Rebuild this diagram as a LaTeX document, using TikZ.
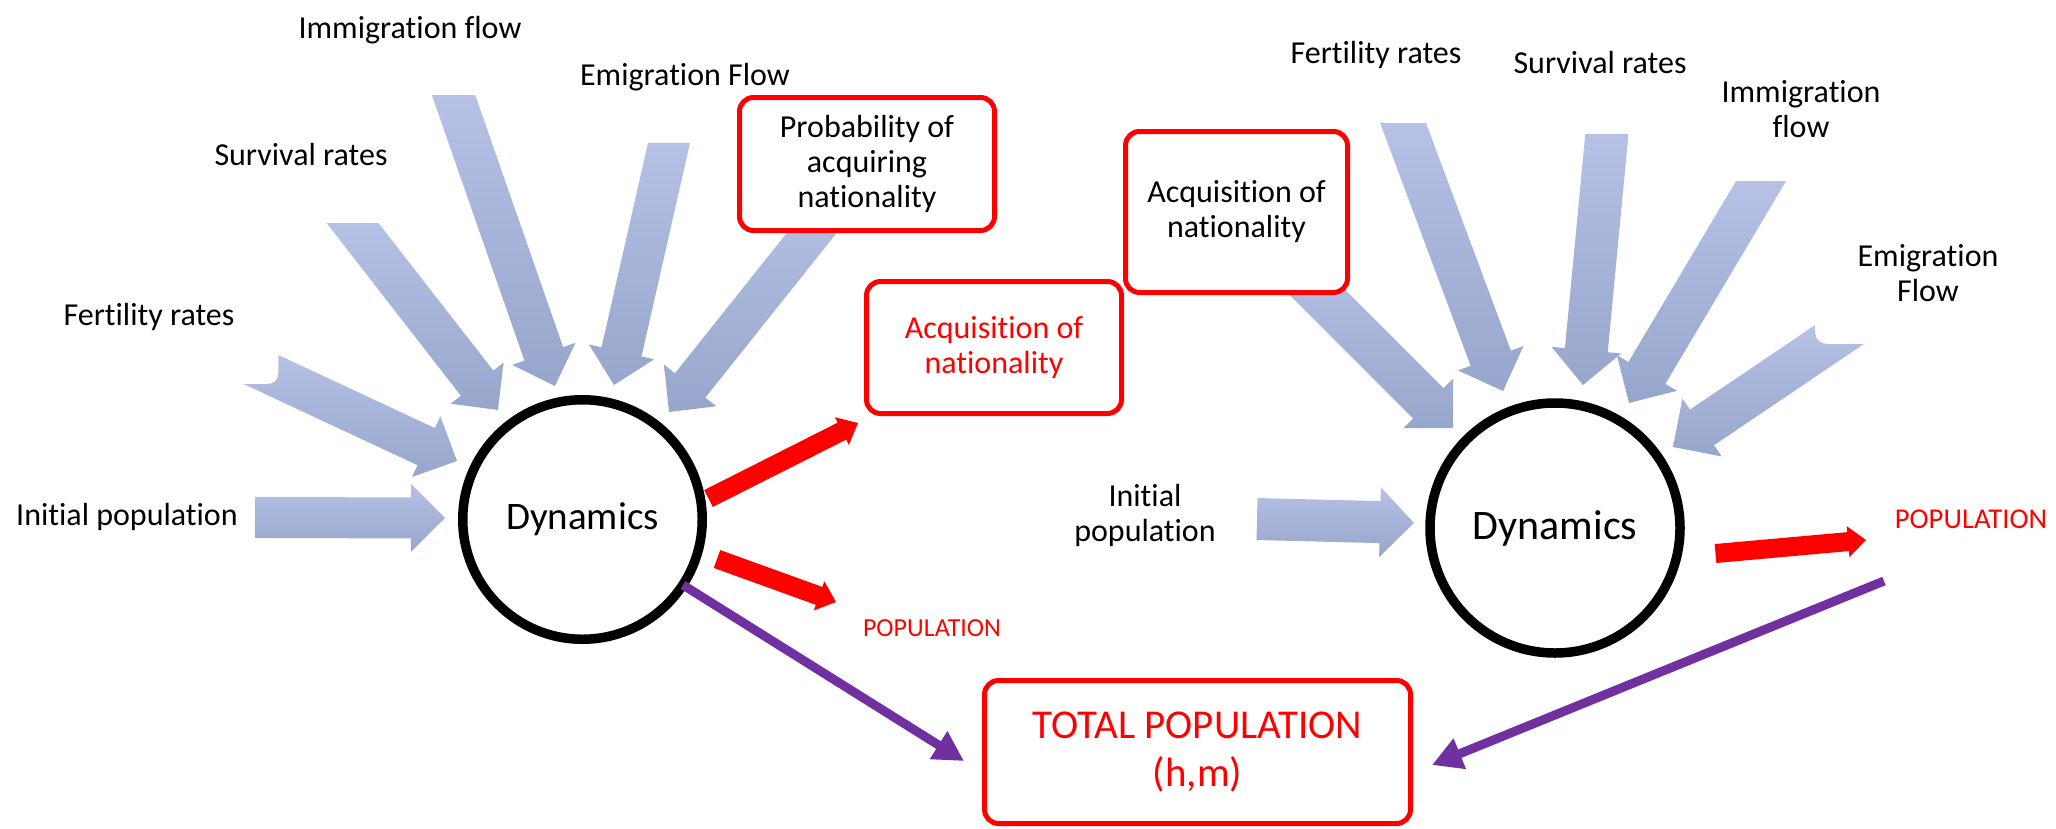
\documentclass[tikz,border=0pt]{standalone}
\usepackage{fontspec}
\setmainfont{Carlito}[Ligatures=NoCommon]
\usetikzlibrary{calc,arrows.meta}
\definecolor{bluetop}{HTML}{B5C1E5}
\definecolor{bluebot}{HTML}{97A6CC}
\definecolor{myred}{HTML}{FF0000}
\definecolor{mypurple}{HTML}{7030A0}
% geometry of a fat arrow: #1 tail (axis), #2 tip, #3 half shaft, #4 half head, #5 head length
\newcommand{\arrowgeom}[5]{%
  \coordinate (hb) at ($(#2)!#5!(#1)$);
  \coordinate (e1) at ($(hb)!#3!90:(#2)$);
  \coordinate (e2) at ($(hb)!#3!-90:(#2)$);
  \coordinate (b1) at ($(hb)!#4!90:(#2)$);
  \coordinate (b2) at ($(hb)!#4!-90:(#2)$);
  \coordinate (s1) at ($(#1)!#3!90:(#2)$);
  \coordinate (s2) at ($(#1)!#3!-90:(#2)$);
}
% fat arrow with a horizontal tail cut
\newcommand{\arrowH}[6]{%
  \arrowgeom{#1}{#2}{#3}{#4}{#5}
  \coordinate (aux) at ($(#1)+(10,0)$);
  \path[#6] (intersection of s1--e1 and #1--aux) -- (e1) -- (b1) -- (#2) -- (b2) -- (e2)
    -- (intersection of s2--e2 and #1--aux) -- cycle;
}
% fat arrow with a square tail
\newcommand{\arrowP}[6]{%
  \arrowgeom{#1}{#2}{#3}{#4}{#5}
  \path[#6] (s1) -- (e1) -- (b1) -- (#2) -- (b2) -- (e2) -- (s2) -- cycle;
}
\begin{document}
\begin{tikzpicture}[x=1pt,y=-1pt,
  bluefill/.style={top color=bluetop, bottom color=bluebot, draw=none},
  redfill/.style={fill=myred, draw=none},
  lbl/.style={font=\fontsize{32}{35}\selectfont, text=black, inner sep=0pt, align=center},
  box/.style={draw=myred, line width=5pt, rounded corners=14pt, fill=white, inner sep=0pt,
    align=center, font=\fontsize{32}{35}\selectfont},
  dyn/.style={circle, draw=black, line width=9.5pt, fill=white, inner sep=0pt},
  purplearrow/.style={draw=mypurple, line width=9pt, -{Triangle[length=30pt,width=31pt]}},
]
\useasboundingbox (0,0) rectangle (2056,828);

% ---------- coordinates of the fat arrows ----------
\coordinate (tFL) at (261,369.5);  \coordinate (hFL) at (457,461);
\coordinate (tSL) at (352.5,223);  \coordinate (hSL) at (498,410);
\coordinate (tIL) at (453.5,95);   \coordinate (hIL) at (555,386);
\coordinate (tEL) at (669,143);    \coordinate (hEL) at (614,385);
\coordinate (tPL) at (834,205);    \coordinate (hPL) at (669,412);
\coordinate (tNL) at (255,517.5);  \coordinate (hNL) at (445,518);
\coordinate (tAR) at (1295,270);   \coordinate (hAR) at (1453,428);
\coordinate (tFR) at (1403,123);   \coordinate (hFR) at (1503,391);
\coordinate (tSR) at (1607,134);   \coordinate (hSR) at (1583,385);
\coordinate (tIR) at (1761,181);   \coordinate (hIR) at (1629,403);
\coordinate (tER) at (1839.5,334.5); \coordinate (hER) at (1673,447);
\coordinate (tNR) at (1257,519);   \coordinate (hNR) at (1414,523);

% ---------- blue arrows, left ----------
\arrowgeom{tFL}{hFL}{20.5pt}{33.5pt}{34pt}
\coordinate (yP1) at (0,355); \coordinate (yP2) at (10,355);
\coordinate (yQ1) at (0,384); \coordinate (yQ2) at (10,384);
\coordinate (nP) at (intersection of s1--e1 and yP1--yP2);
\coordinate (nQ) at (intersection of s2--e2 and yQ1--yQ2);
\path[bluefill] (nP) -- (e1) -- (b1) -- (hFL) -- (b2) -- (e2) -- (nQ) -- ($(nP)+(-12,29)$)
  .. controls ($(nP)+(-5,29)$) and ($(nP)+(0,26)$) .. ($(nP)+(0,17)$) -- cycle;
\arrowH{tSL}{hSL}{20.5pt}{33.5pt}{34pt}{bluefill}
\arrowH{tIL}{hIL}{20.5pt}{33.5pt}{34pt}{bluefill}
\arrowH{tEL}{hEL}{20.5pt}{33.5pt}{34pt}{bluefill}
\arrowP{tPL}{hPL}{19.5pt}{33.5pt}{34pt}{bluefill}
\arrowP{tNL}{hNL}{20.5pt}{34pt}{34pt}{bluefill}

% ---------- blue arrows, right ----------
\arrowP{tAR}{hAR}{21.5pt}{35pt}{35pt}{bluefill}
\arrowH{tFR}{hFR}{21.5pt}{35pt}{35pt}{bluefill}
\arrowH{tSR}{hSR}{21.5pt}{35pt}{35pt}{bluefill}
\arrowH{tIR}{hIR}{21.5pt}{35pt}{35pt}{bluefill}
\arrowgeom{tER}{hER}{21.5pt}{35pt}{35pt}
\coordinate (zP1) at (0,325); \coordinate (zP2) at (10,325);
\coordinate (zQ1) at (0,344); \coordinate (zQ2) at (10,344);
\coordinate (mP) at (intersection of s2--e2 and zP1--zP2);
\coordinate (mQ) at (intersection of s1--e1 and zQ1--zQ2);
\path[bluefill] (mP) -- (e2) -- (b2) -- (hER) -- (b1) -- (e1) -- (mQ) -- ($(mP)+(13,19)$)
  .. controls ($(mP)+(6,19)$) and ($(mP)+(0,15)$) .. ($(mP)+(0,8)$) -- cycle;
\arrowP{tNR}{hNR}{21pt}{35pt}{34pt}{bluefill}

% ---------- boxes ----------
\node[box, minimum width=255pt, minimum height=133pt] (prob) at (867,164)
  {Probability of\\acquiring\\nationality};
\node[box, minimum width=255pt, minimum height=132pt, text=myred] (acq1) at (994,347.5)
  {Acquisition of\\nationality};
\node[box, minimum width=222pt, minimum height=161pt] (acq2) at (1236.5,212)
  {Acquisition of\\nationality};
\node[box, minimum width=426pt, minimum height=143pt, text=myred,
  font=\fontsize{41}{48}\selectfont] (tot) at (1197.5,752) {TOTAL POPULATION\\(h,m)};

% ---------- circles ----------
\node[dyn, minimum size=239.5pt, font=\fontsize{39}{44}\selectfont] (dyn1) at (582.5,519.5) {Dynamics};
\node[dyn, minimum size=250pt, font=\fontsize{42}{46}\selectfont] (dyn2) at (1555,528) {Dynamics};

% ---------- red arrows ----------
\coordinate (rA1) at (708.5,498.5); \coordinate (rB1) at (858,423);
\coordinate (rA2) at (717,559);     \coordinate (rB2) at (836,602);
\coordinate (rA3) at (1715.5,553.5); \coordinate (rB3) at (1866,540);
\arrowP{rA1}{rB1}{9.5pt}{15.5pt}{18pt}{redfill}
\arrowP{rA2}{rB2}{9.5pt}{15.5pt}{18pt}{redfill}
\arrowP{rA3}{rB3}{9.5pt}{15.5pt}{18pt}{redfill}

% ---------- purple arrows ----------
\coordinate (pA1) at (683,585);  \coordinate (pB1) at (964,761);
\coordinate (pA2) at (1884,581); \coordinate (pB2) at (1432,765);
\draw[purplearrow] (pA1) -- (pB1);
\draw[purplearrow] (pA2) -- (pB2);

% ---------- labels ----------
\node[lbl, anchor=base] (imm1) at (410,38) {Immigration flow};
\node[lbl, anchor=base] (emi1) at (685,85) {Emigration Flow};
\node[lbl, anchor=base] (sur1) at (301,165) {Survival rates};
\node[lbl, anchor=base] (fer1) at (149,325) {Fertility rates};
\node[lbl, anchor=base] (ini1) at (127,525) {Initial population};
\node[lbl, anchor=base] (fer2) at (1376,63) {Fertility rates};
\node[lbl, anchor=base] (sur2) at (1600,73) {Survival rates};
\node[lbl, anchor=north] (imm2) at (1801,80) {Immigration\\flow};
\node[lbl, anchor=north] (emi2) at (1928,244) {Emigration\\Flow};
\node[lbl, anchor=north] (ini2) at (1145,484) {Initial\\population};
\node[lbl, anchor=base, text=myred, font=\fontsize{26}{30}\selectfont] (pop1) at (932,636) {POPULATION};
\node[lbl, anchor=base, text=myred, font=\fontsize{28.7}{32}\selectfont] (pop2) at (1971,528) {POPULATION};
\end{tikzpicture}
\end{document}
